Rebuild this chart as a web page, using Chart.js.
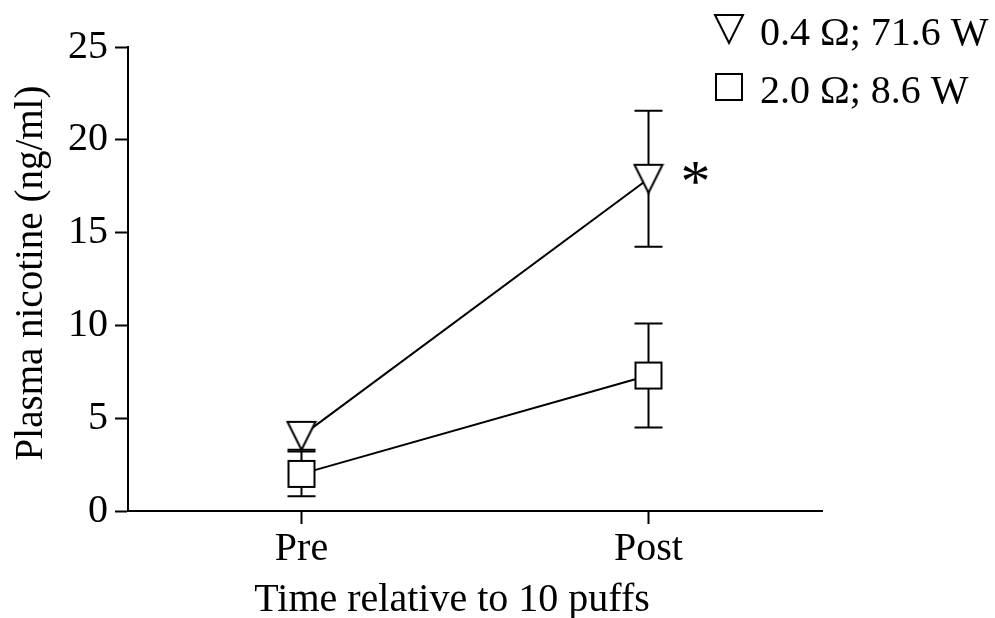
<!DOCTYPE html>
<html>
<head>
<meta charset="utf-8">
<script src="https://cdn.jsdelivr.net/npm/chart.js@4"></script>
<style>
  body { margin: 0; background: #fff; }
</style>
</head>
<body>
<canvas id="nicotineChart" width="995" height="618"></canvas>
<script>
// values
let timePoints = ['Pre', 'Post'];
let highPowerMean = [4.05, 17.9];
let highPowerSem = [0.75, 3.66];
let lowPowerMean = [2.0, 7.3];
let lowPowerSem = [1.2, 2.8];
let highPowerMarks = ['', '*'];
let seriesLabels = ['0.4 \u03A9; 71.6 W', '2.0 \u03A9; 8.6 W'];
let xTitle = 'Time relative to 10 puffs';
let yTitle = 'Plasma nicotine (ng/ml)';
let yTickStep = 5;
let yMax = 25;

let serif = 'Liberation Serif, Times New Roman, serif';
Chart.defaults.font.family = serif;
Chart.defaults.color = '#000';

let makeMarker = function (kind) {
	let c = document.createElement('canvas');
	c.width = 32;
	c.height = 32;
	let g = c.getContext('2d');
	g.lineWidth = 2;
	g.strokeStyle = '#000';
	g.fillStyle = '#fff';
	g.beginPath();
	if (kind === 'triangle') {
		g.moveTo(2, 2);
		g.lineTo(30, 2);
		g.lineTo(16, 30);
		g.closePath();
	} else {
		g.rect(3, 3, 26, 26);
	}
	g.fill();
	g.stroke();
	return c;
};
let triangleMarker = makeMarker('triangle');
let squareMarker = makeMarker('square');

let toPoints = function (values) {
	return values.map(function (v, i) { return { x: i + 1, y: v }; });
};

// error bars under the markers; asterisk, titles and legend on top
let extrasPlugin = {
	id: 'extras',
	beforeDatasetsDraw: function (chart) {
		let ctx = chart.ctx;
		let yScale = chart.scales.y;
		ctx.save();
		ctx.strokeStyle = '#000';
		ctx.lineWidth = 2;
		chart.data.datasets.forEach(function (ds, di) {
			let meta = chart.getDatasetMeta(di);
			ds.sem.forEach(function (s, i) {
				let x = meta.data[i].x;
				let top = yScale.getPixelForValue(ds.data[i].y + s);
				let bot = yScale.getPixelForValue(ds.data[i].y - s);
				ctx.beginPath();
				ctx.moveTo(x, top);
				ctx.lineTo(x, bot);
				ctx.moveTo(x - 14, top);
				ctx.lineTo(x + 14, top);
				ctx.moveTo(x - 14, bot);
				ctx.lineTo(x + 14, bot);
				ctx.stroke();
			});
		});
		ctx.restore();
	},
	afterDraw: function (chart) {
		let ctx = chart.ctx;
		ctx.save();
		ctx.fillStyle = '#000';
		// significance mark
		let meta = chart.getDatasetMeta(0);
		ctx.font = '60px ' + serif;
		ctx.textAlign = 'center';
		ctx.textBaseline = 'middle';
		highPowerMarks.forEach(function (m, i) {
			if (!m) return;
			let p = meta.data[i];
			ctx.fillText(m, p.x + 47, p.y + 6);
		});
		// axis titles
		ctx.font = '40px ' + serif;
		ctx.textBaseline = 'alphabetic';
		ctx.fillText(xTitle, 452, 611);
		ctx.save();
		ctx.font = '39px ' + serif;
		ctx.translate(42, 273);
		ctx.rotate(-Math.PI / 2);
		ctx.fillText(yTitle, 0, 0);
		ctx.restore();
		// legend
		ctx.textAlign = 'left';
		let markers = [triangleMarker, squareMarker];
		seriesLabels.forEach(function (label, i) {
			let rowY = 13 + i * 58;
			ctx.drawImage(markers[i], 713, rowY);
			ctx.fillText(label, 760, rowY + 32);
		});
		ctx.restore();
	}
};

let chart = new Chart('nicotineChart', {
	type: 'line',
	data: {
		datasets: [{
			label: seriesLabels[0],
			data: toPoints(highPowerMean),
			sem: highPowerSem,
			borderColor: '#000',
			borderWidth: 2,
			pointStyle: triangleMarker,
			pointRadius: 14,
			tension: 0,
			fill: false
		}, {
			label: seriesLabels[1],
			data: toPoints(lowPowerMean),
			sem: lowPowerSem,
			borderColor: '#000',
			borderWidth: 2,
			pointStyle: squareMarker,
			pointRadius: 14,
			tension: 0,
			fill: false
		}]
	},
	options: {
		responsive: false,
		animation: false,
		layout: { padding: { top: 47, right: 173, left: 0, bottom: 0 } },
		plugins: {
			legend: { display: false },
			tooltip: { enabled: false }
		},
		scales: {
			x: {
				type: 'linear',
				min: 0.5,
				max: 2.5,
				afterBuildTicks: function (s) {
					s.ticks = timePoints.map(function (t, i) { return { value: i + 1 }; });
				},
				afterFit: function (s) { s.height = 107; },
				ticks: {
					callback: function (v) { return timePoints[v - 1]; },
					font: { size: 40 },
					color: '#000',
					padding: 1,
					maxRotation: 0
				},
				grid: { drawOnChartArea: false, tickLength: 13, tickColor: '#000', tickWidth: 2 },
				border: { color: '#000', width: 2 }
			},
			y: {
				min: 0,
				max: yMax,
				afterFit: function (s) { s.width = 128; },
				ticks: {
					stepSize: yTickStep,
					font: { size: 40 },
					color: '#000',
					padding: 7
				},
				grid: { drawOnChartArea: false, tickLength: 13, tickColor: '#000', tickWidth: 2 },
				border: { color: '#000', width: 2 }
			}
		}
	},
	plugins: [extrasPlugin]
});
</script>
</body>
</html>
